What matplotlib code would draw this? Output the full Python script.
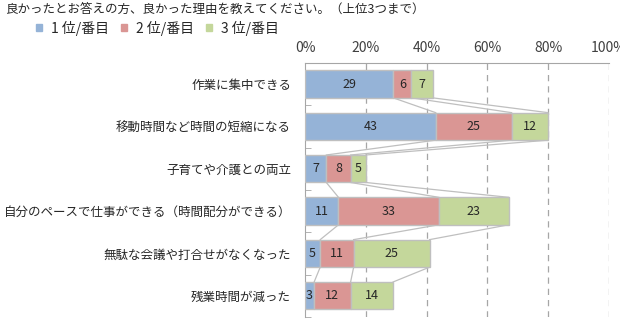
import numpy as np
import matplotlib; matplotlib.use("Agg")
import matplotlib.pyplot as plt

plt.rcParams["font.family"] = ["Noto Sans CJK JP", "DejaVu Sans"]

CATS = ["作業に集中できる", "移動時間など時間の短縮になる", "子育てや介護との両立",
        "自分のペースで仕事ができる（時間配分ができる）", "無駄な会議や打合せがなくなった", "残業時間が減った"]
SERIES = ["1 位/番目", "2 位/番目", "3 位/番目"]
RANK1 = [29, 43, 7, 11, 5, 3]
RANK2 = [6, 25, 8, 33, 11, 12]
RANK3 = [7, 12, 5, 23, 25, 14]
COLS = ["#95B3D7", "#DA9694", "#C4D79B"]
TITLE = "良かったとお答えの方、良かった理由を教えてください。（上位3つまで）"

fig = plt.figure(figsize=(6.2, 3.26), dpi=100)
ax = fig.add_axes([0.492, 0.028, 0.490, 0.779])
vals = np.array([RANK1, RANK2, RANK3], float)
cum = np.vstack([np.zeros(len(CATS)), np.cumsum(vals, 0)])
y = np.arange(len(CATS)); h = 0.65
for k in range(3):
    ax.barh(y, vals[k], left=cum[k], height=h, color=COLS[k], edgecolor="#BFBFBF", linewidth=1, zorder=3)
    for i in range(len(CATS)):
        ax.text(cum[k, i] + vals[k, i] / 2, y[i], f"{int(vals[k, i])}", ha="center", va="center",
                fontsize=9, color="#262626", zorder=4)
# series lines
for i in range(len(CATS) - 1):
    for k in range(1, 4):
        ax.plot([cum[k, i], cum[k, i + 1]], [y[i] + h / 2, y[i + 1] - h / 2], color="#BFBFBF", lw=0.9, zorder=2)

ax.set_xlim(0, 100); ax.set_ylim(len(CATS) - 0.5, -0.5)
ax.xaxis.tick_top()
ax.set_xticks([0, 20, 40, 60, 80, 100]); ax.set_xticklabels([f"{v}%" for v in [0, 20, 40, 60, 80, 100]], fontsize=10, color="#404040")
ax.tick_params(axis="x", length=0, pad=6)
ax.set_yticks(y); ax.set_yticklabels(CATS, fontsize=9, color="#262626")
ax.set_yticks(np.arange(-0.5, len(CATS), 1), minor=True)
ax.tick_params(axis="y", which="major", length=0, pad=10)
ax.tick_params(axis="y", which="minor", direction="in", length=4, color="#A6A6A6")
for v in [20, 40, 60, 80, 100]:
    ax.axvline(v, color="#A6A6A6", lw=0.9, ls=(0, (5, 4)), zorder=1)
for s in ["right", "bottom"]: ax.spines[s].set_visible(False)
for s in ["left", "top"]: ax.spines[s].set_color("#A6A6A6")

fig.text(0.008, 0.972, TITLE, fontsize=9, va="center", color="#262626")
handles = [plt.Rectangle((0, 0), 1, 1, color=c) for c in COLS]
fig.legend(handles, SERIES, loc="center left", bbox_to_anchor=(0.058, 0.914), ncol=3, frameon=False,
           fontsize=10, handlelength=0.45, handleheight=0.45, columnspacing=0.9, handletextpad=0.6,
           borderpad=0, borderaxespad=0, labelcolor="#262626")
fig.savefig("out.png", dpi=100)
